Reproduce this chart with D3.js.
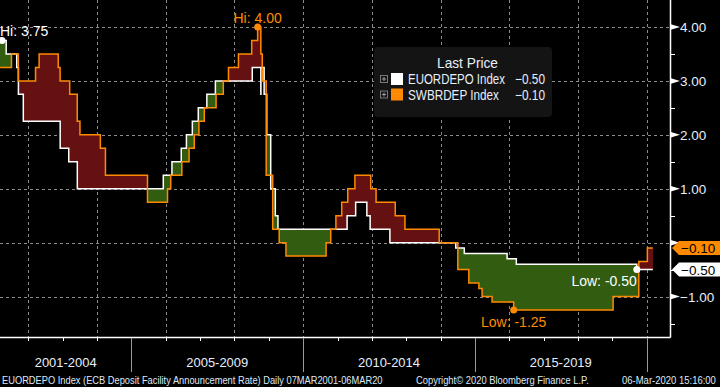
<!DOCTYPE html>
<html>
<head>
<meta charset="utf-8">
<script src="https://cdn.jsdelivr.net/npm/d3@7"></script>
<style>
  body { margin: 0; background: #000; }
  svg { display: block; }
  text { font-family: "Liberation Sans", Arial, sans-serif; }
</style>
</head>
<body>
<script>
// ECB deposit facility rate, change dates and values
var eurDates = ["2001-03-07","2001-05-11","2001-08-31","2001-09-18","2001-11-09","2002-12-06","2003-03-07","2003-06-06",
  "2005-12-06","2006-03-08","2006-06-15","2006-08-09","2006-10-11","2006-12-13","2007-03-14","2007-06-13",
  "2008-07-09","2008-10-08","2008-10-09","2008-11-12","2008-12-10","2009-01-21","2009-03-11","2009-04-08",
  "2011-04-13","2011-07-13","2011-11-09","2011-12-14","2012-07-11","2014-06-11","2014-09-10","2015-12-09",
  "2016-03-16","2019-09-18"];
var eurRates = [3.75,3.50,3.25,2.75,2.25,1.75,1.50,1.00,
  1.25,1.50,1.75,2.00,2.25,2.50,2.75,3.00,
  3.25,2.75,3.25,2.75,2.00,1.00,0.50,0.25,
  0.50,0.75,0.50,0.25,0.00,-0.10,-0.20,-0.30,
  -0.40,-0.50];

// Riksbank deposit rate
var sweDates = ["2001-03-07","2001-07-06","2001-09-17","2002-03-19","2002-04-26","2002-11-15","2002-12-05","2003-03-17",
  "2003-06-05","2003-07-04","2004-02-06","2004-03-31","2005-06-21","2006-01-20","2006-02-23","2006-06-21",
  "2006-09-06","2006-10-31","2006-12-20","2007-02-15","2007-06-20","2007-09-05","2007-10-30","2008-02-13",
  "2008-07-03","2008-09-04","2008-10-08","2008-10-23","2008-12-04","2009-02-11","2009-04-21","2009-07-02",
  "2010-09-02","2010-10-21","2010-12-15","2011-02-15","2011-04-20","2011-07-05","2011-12-20","2012-02-15",
  "2012-09-06","2012-12-18","2013-12-17","2014-07-03","2014-10-28","2015-02-12","2015-03-18","2015-07-02",
  "2016-02-17","2019-01-09","2019-10-09","2020-01-08"];
var sweRates = [3.25,3.50,3.00,3.25,3.50,3.25,3.00,2.75,
  2.25,2.00,1.75,1.25,0.75,1.00,1.25,1.50,
  1.75,2.00,2.25,2.50,2.75,3.00,3.25,3.50,
  3.75,4.00,3.50,3.00,1.25,0.25,0.00,-0.25,
  0.00,0.25,0.50,0.75,1.00,1.25,1.00,0.75,
  0.50,0.25,0.00,-0.50,-0.75,-0.85,-1.00,-1.10,
  -1.25,-1.00,-0.35,-0.10];

var lastDate = "2020-03-06";
var yTicks = [4, 3, 2, 1, 0, -1];
var periodLabels = ["2001-2004", "2005-2009", "2010-2014", "2015-2019"];
var periodBreaks = [2001, 2005, 2010, 2015, 2020];

var width = 720, height = 387;
var plotRight = 670, plotBottom = 337;
var parse = d3.timeParse("%Y-%m-%d");

var eur = eurDates.map(function(d, i) { return {date: parse(d), v: eurRates[i]}; });
var swe = sweDates.map(function(d, i) { return {date: parse(d), v: sweRates[i]}; });
var end = parse(lastDate);
eur.push({date: end, v: eurRates[eurRates.length - 1]});
swe.push({date: end, v: sweRates[sweRates.length - 1]});

var x = d3.scaleTime()
    .domain([new Date(2002, 0, 1), new Date(2020, 0, 1)])
    .range([28.3, 646.7]);
var y = d3.scaleLinear().domain([-1.75, 4.5]).range([plotBottom, 0]);

var svg = d3.select("body").append("svg")
    .attr("width", width)
    .attr("height", height);

svg.append("rect").attr("width", width).attr("height", height).attr("fill", "#000");

// squeeze a text horizontally so it spans w pixels from (x0, y0)
function fit(sel, x0, y0, w) {
  sel.attr("x", 0).attr("y", 0).each(function(d) {
    var len = this.getComputedTextLength();
    var xx = typeof x0 === "function" ? x0(d) : x0;
    var yy = typeof y0 === "function" ? y0(d) : y0;
    var ww = typeof w === "function" ? w(d) : w;
    d3.select(this).attr("transform", "translate(" + xx + "," + yy + ") scale(" + (ww / len) + ",1)");
  });
}

// gridlines
var grid = svg.append("g").attr("stroke", "#8a8a8a").attr("stroke-dasharray", "3,3").attr("stroke-width", 1);
grid.selectAll("line.h").data(yTicks).enter().append("line")
    .attr("x1", 0).attr("x2", plotRight)
    .attr("y1", function(d) { return Math.round(y(d)) + 0.5; })
    .attr("y2", function(d) { return Math.round(y(d)) + 0.5; });
var evenYears = d3.range(2002, 2021, 2).map(function(yr) { return new Date(yr, 0, 1); });
grid.selectAll("line.v").data(evenYears).enter().append("line")
    .attr("y1", 0).attr("y2", plotBottom)
    .attr("x1", function(d) { return Math.round(x(d)) + 0.5; })
    .attr("x2", function(d) { return Math.round(x(d)) + 0.5; });

// fill between the two step series
var allDates = d3.merge([eur.map(function(d) { return +d.date; }), swe.map(function(d) { return +d.date; })]);
allDates = Array.from(new Set(allDates)).sort(d3.ascending);
function valueAt(series, t) {
  var i = d3.bisector(function(d) { return +d.date; }).right(series, t) - 1;
  return series[Math.max(0, i)].v;
}
var segs = [];
for (var i = 0; i < allDates.length - 1; i++) {
  var t = allDates[i];
  segs.push({t0: t, t1: allDates[i + 1], a: valueAt(eur, t), b: valueAt(swe, t)});
}
svg.append("g").selectAll("rect").data(segs.filter(function(s) { return s.a !== s.b; })).enter().append("rect")
    .attr("x", function(s) { return x(s.t0); })
    .attr("width", function(s) { return x(s.t1) - x(s.t0); })
    .attr("y", function(s) { return y(Math.max(s.a, s.b)); })
    .attr("height", function(s) { return Math.abs(y(s.a) - y(s.b)); })
    .attr("fill", function(s) { return s.b > s.a ? "#661111" : "#325c10"; })
    .attr("shape-rendering", "crispEdges");

var line = d3.line()
    .x(function(d) { return x(d.date); })
    .y(function(d) { return y(d.v); })
    .curve(d3.curveStepAfter);

svg.append("path").datum(eur).attr("d", line)
    .attr("fill", "none").attr("stroke", "#fff").attr("stroke-width", 1.5);
svg.append("path").datum(swe).attr("d", line)
    .attr("fill", "none").attr("stroke", "#ff8a00").attr("stroke-width", 1.5);

// axes
svg.append("line").attr("x1", 0).attr("x2", plotRight + 0.5).attr("y1", plotBottom + 0.5).attr("y2", plotBottom + 0.5)
    .attr("stroke", "#fff").attr("stroke-width", 1.5);
svg.append("line").attr("x1", plotRight + 0.5).attr("x2", plotRight + 0.5).attr("y1", 0).attr("y2", plotBottom + 0.5)
    .attr("stroke", "#fff").attr("stroke-width", 1.5);

var years = d3.range(2001, 2021).map(function(yr) { return new Date(yr, 0, 1); })
    .filter(function(d) { return x(d) > 0; });
svg.append("g").selectAll("line").data(years).enter().append("line")
    .attr("x1", function(d) { return Math.round(x(d)) + 0.5; })
    .attr("x2", function(d) { return Math.round(x(d)) + 0.5; })
    .attr("y1", plotBottom).attr("y2", plotBottom + 4)
    .attr("stroke", "#fff");

var breaks = periodBreaks.map(function(yr) { return new Date(yr, 0, 1); });
svg.append("g").selectAll("line").data(breaks.slice(1)).enter().append("line")
    .attr("x1", function(d) { return Math.round(x(d)) + 0.5; })
    .attr("x2", function(d) { return Math.round(x(d)) + 0.5; })
    .attr("y1", plotBottom + 1).attr("y2", 372)
    .attr("stroke", "#9a9a9a");

svg.append("g").selectAll("text").data(periodLabels).enter().append("text")
    .attr("fill", "#e6eefa")
    .attr("font-size", 13.5)
    .text(function(d) { return d; })
    .call(fit, function(d) {
      var i = periodLabels.indexOf(d);
      return (Math.max(0, x(breaks[i])) + x(breaks[i + 1])) / 2 - 31;
    }, 367, 62);

// y axis ticks
var minor = d3.range(-1.5, 4.5, 1);
svg.append("g").selectAll("line").data(minor).enter().append("line")
    .attr("x1", plotRight).attr("x2", plotRight + 5)
    .attr("y1", function(d) { return Math.round(y(d)) + 0.5; })
    .attr("y2", function(d) { return Math.round(y(d)) + 0.5; })
    .attr("stroke", "#fff");
svg.append("g").selectAll("path").data(yTicks).enter().append("path")
    .attr("d", function(d) { var yy = y(d); return "M" + plotRight + "," + (yy - 3) + "L" + (plotRight + 10) + "," + yy + "L" + plotRight + "," + (yy + 3) + "Z"; })
    .attr("fill", "#fff");
svg.append("g").selectAll("text").data(yTicks.filter(function(d) { return d !== 0; })).enter().append("text")
    .attr("x", 680).attr("y", function(d) { return y(d) + 5; })
    .attr("fill", "#e6eefa").attr("font-size", 13.5)
    .text(function(d) { return d3.format(".2f")(d); });

// last value tags
var tags = [
  {v: sweRates[sweRates.length - 1], fill: "#ff8a00"},
  {v: eurRates[eurRates.length - 1], fill: "#fff"}
];
var tag = svg.append("g").selectAll("g").data(tags).enter().append("g")
    .attr("transform", function(d) { return "translate(0," + y(d.v) + ")"; });
tag.append("path")
    .attr("d", "M672,0L679,-7L720,-7L720,7L679,7Z")
    .attr("fill", function(d) { return d.fill; });
tag.append("text").attr("x", 681).attr("y", 5)
    .attr("fill", "#000").attr("font-size", 13.5)
    .text(function(d) { return d3.format(".2f")(d.v); });

// hi / low markers
var eurHi = eur[0], sweHi = swe[d3.maxIndex(swe, function(d) { return d.v; })];
var eurLo = eur[d3.minIndex(eur, function(d) { return d.v; })], sweLo = swe[d3.minIndex(swe, function(d) { return d.v; })];
var marks = [
  {p: eurHi, c: "#fff", label: "Hi: 3.75", dx: 0, dy: -4.5, anchor: "start", fx: 0},
  {p: sweHi, c: "#ff8a00", label: "Hi: 4.00", dx: 0, dy: -3.7, anchor: "middle"},
  {p: eurLo, c: "#fff", label: "Low: -0.50", dx: 0, dy: 16, anchor: "end"},
  {p: sweLo, c: "#ff8a00", label: "Low: -1.25", dx: 0, dy: 17, anchor: "middle"}
];
marks.forEach(function(m) {
  var cx = Math.max(2, x(m.p.date)), cy = y(m.p.v);
  svg.append("circle").attr("cx", cx).attr("cy", cy).attr("r", 3.5).attr("fill", m.c);
  svg.append("text")
    .attr("x", m.fx !== undefined ? m.fx : cx + m.dx)
    .attr("y", cy + m.dy)
    .attr("text-anchor", m.anchor)
    .attr("fill", m.c).attr("font-size", 14)
    .text(m.label);
});

// legend
var lg = svg.append("g");
lg.append("rect").attr("x", 374).attr("y", 47).attr("width", 178).attr("height", 70).attr("rx", 4)
    .attr("fill", "#141414");
lg.append("text")
    .attr("fill", "#e6eefa").attr("font-size", 14)
    .text("Last Price")
    .call(fit, 437, 68, 61);
var legendRows = [
  {name: "EUORDEPO Index", w: 97, v: eurRates[eurRates.length - 1], c: "#fff"},
  {name: "SWBRDEP Index", w: 91, v: sweRates[sweRates.length - 1], c: "#ff8a00"}
];
var row = lg.selectAll("g.row").data(legendRows).enter().append("g")
    .attr("transform", function(d, i) { return "translate(0," + (79 + i * 15.5) + ")"; });
row.append("rect").attr("x", 380.5).attr("y", -3.5).attr("width", 7).attr("height", 7)
    .attr("fill", "none").attr("stroke", "#777");
row.append("path").attr("d", "M382,0H386M384,-2V2").attr("stroke", "#999");
row.append("rect").attr("x", 391).attr("y", -6).attr("width", 12).attr("height", 12).attr("fill", function(d) { return d.c; });
row.append("text")
    .attr("fill", "#e6eefa").attr("font-size", 14)
    .text(function(d) { return d.name; })
    .call(fit, 408, 5, function(d) { return d.w; });
row.append("text")
    .attr("fill", "#e6eefa").attr("font-size", 14)
    .text(function(d) { return d3.format(".2f")(d.v); })
    .call(fit, 515, 5, 30);

// footer
var footer = [
  {x: 2, w: 381, t: "EUORDEPO Index (ECB Deposit Facility Announcement Rate)  Daily 07MAR2001-06MAR20"},
  {x: 416, w: 173, t: "Copyright\u00A9 2020 Bloomberg Finance L.P."},
  {x: 622, w: 94, t: "06-Mar-2020 15:16:00"}
];
svg.append("g").selectAll("text").data(footer).enter().append("text")
    .attr("fill", "#dfe8f5").attr("font-size", 10.5)
    .text(function(d) { return d.t; })
    .call(fit, function(d) { return d.x; }, 384, function(d) { return d.w; });
</script>
</body>
</html>
